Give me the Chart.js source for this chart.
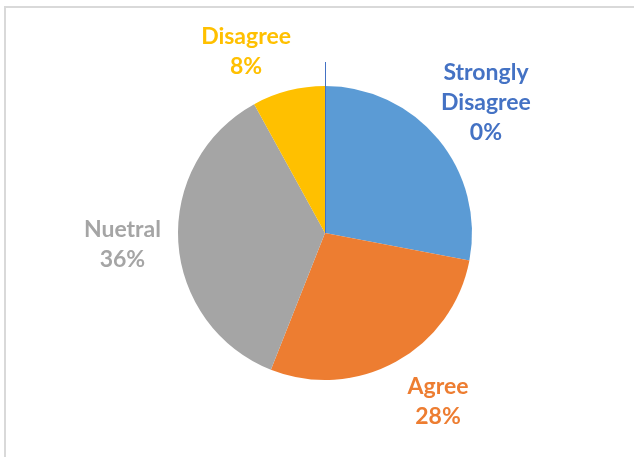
<!DOCTYPE html>
<html>
<head>
<meta charset="utf-8">
<script src="https://cdn.jsdelivr.net/npm/chart.js@4/dist/chart.umd.min.js"></script>
<style>
  html, body { margin: 0; padding: 0; background: #fff; }
  #wrap { width: 634px; height: 457px; position: relative; }
</style>
</head>
<body>
<div id="wrap"><canvas id="surveyChart"></canvas></div>
<script>
const categories = ['Strongly Agree', 'Agree', 'Nuetral', 'Disagree', 'Strongly Disagree'];
const shares = [28, 28, 36, 8, 0];
const showLabel = [false, true, true, true, true];
const sliceColors = ['#5B9BD5', '#ED7D31', '#A5A5A5', '#FFC000', '#4472C4'];

// label block centres, as multiples of the pie radius from its centre
const labelOffsets = [null, [0.769, 1.146], [-1.378, 0.08], [-0.537, -1.235], [1.095, -0.885]];

const frame = {
    id: 'frame',
    beforeDraw(chart) {
        const c = chart.ctx;
        c.save();
        c.fillStyle = '#fff';
        c.fillRect(0, 0, chart.width, chart.height);
        c.fillStyle = '#d9d9d9';
        c.fillRect(4, 6, chart.width, 2);
        c.fillRect(4, 6, 2, chart.height);
        c.restore();
    }
};

const sliceLabels = {
    id: 'sliceLabels',
    afterDatasetsDraw(chart) {
        const c = chart.ctx;
        const arcs = chart.getDatasetMeta(0).data;
        const capH = 15, lineH = 30;
        c.save();
        c.font = 'bold 23px Lato, "Open Sans", sans-serif';
        c.textAlign = 'center';
        c.textBaseline = 'alphabetic';
        arcs.forEach((arc, i) => {
            const { x, y, outerRadius, startAngle } = arc;
            // zero-size slice: leader line from the centre past the rim
            if (shares[i] === 0) {
                c.strokeStyle = sliceColors[i];
                c.lineWidth = 1;
                const px = Math.round(x + Math.cos(startAngle) * outerRadius) + 0.5;
                c.beginPath();
                c.moveTo(px, y);
                c.lineTo(px, y - outerRadius - 24);
                c.stroke();
            }
            if (!showLabel[i]) return;
            const lines = categories[i].split(' ').concat([shares[i] + '%']);
            const blockH = capH + (lines.length - 1) * lineH;
            const lx = x + labelOffsets[i][0] * outerRadius;
            const top = y + labelOffsets[i][1] * outerRadius - blockH / 2;
            c.fillStyle = sliceColors[i];
            lines.forEach((t, k) => c.fillText(t, lx, top + capH + k * lineH));
        });
        c.restore();
    }
};

new Chart(document.getElementById('surveyChart'), {
    type: 'pie',
    data: {
        labels: categories,
        datasets: [{
            data: shares,
            backgroundColor: sliceColors,
            borderWidth: 0
        }]
    },
    options: {
        responsive: true,
        maintainAspectRatio: false,
        animation: false,
        layout: { padding: { top: 86, bottom: 77, left: 178, right: 162 } },
        plugins: {
            legend: { display: false },
            tooltip: { enabled: false }
        }
    },
    plugins: [frame, sliceLabels]
});
</script>
</body>
</html>
